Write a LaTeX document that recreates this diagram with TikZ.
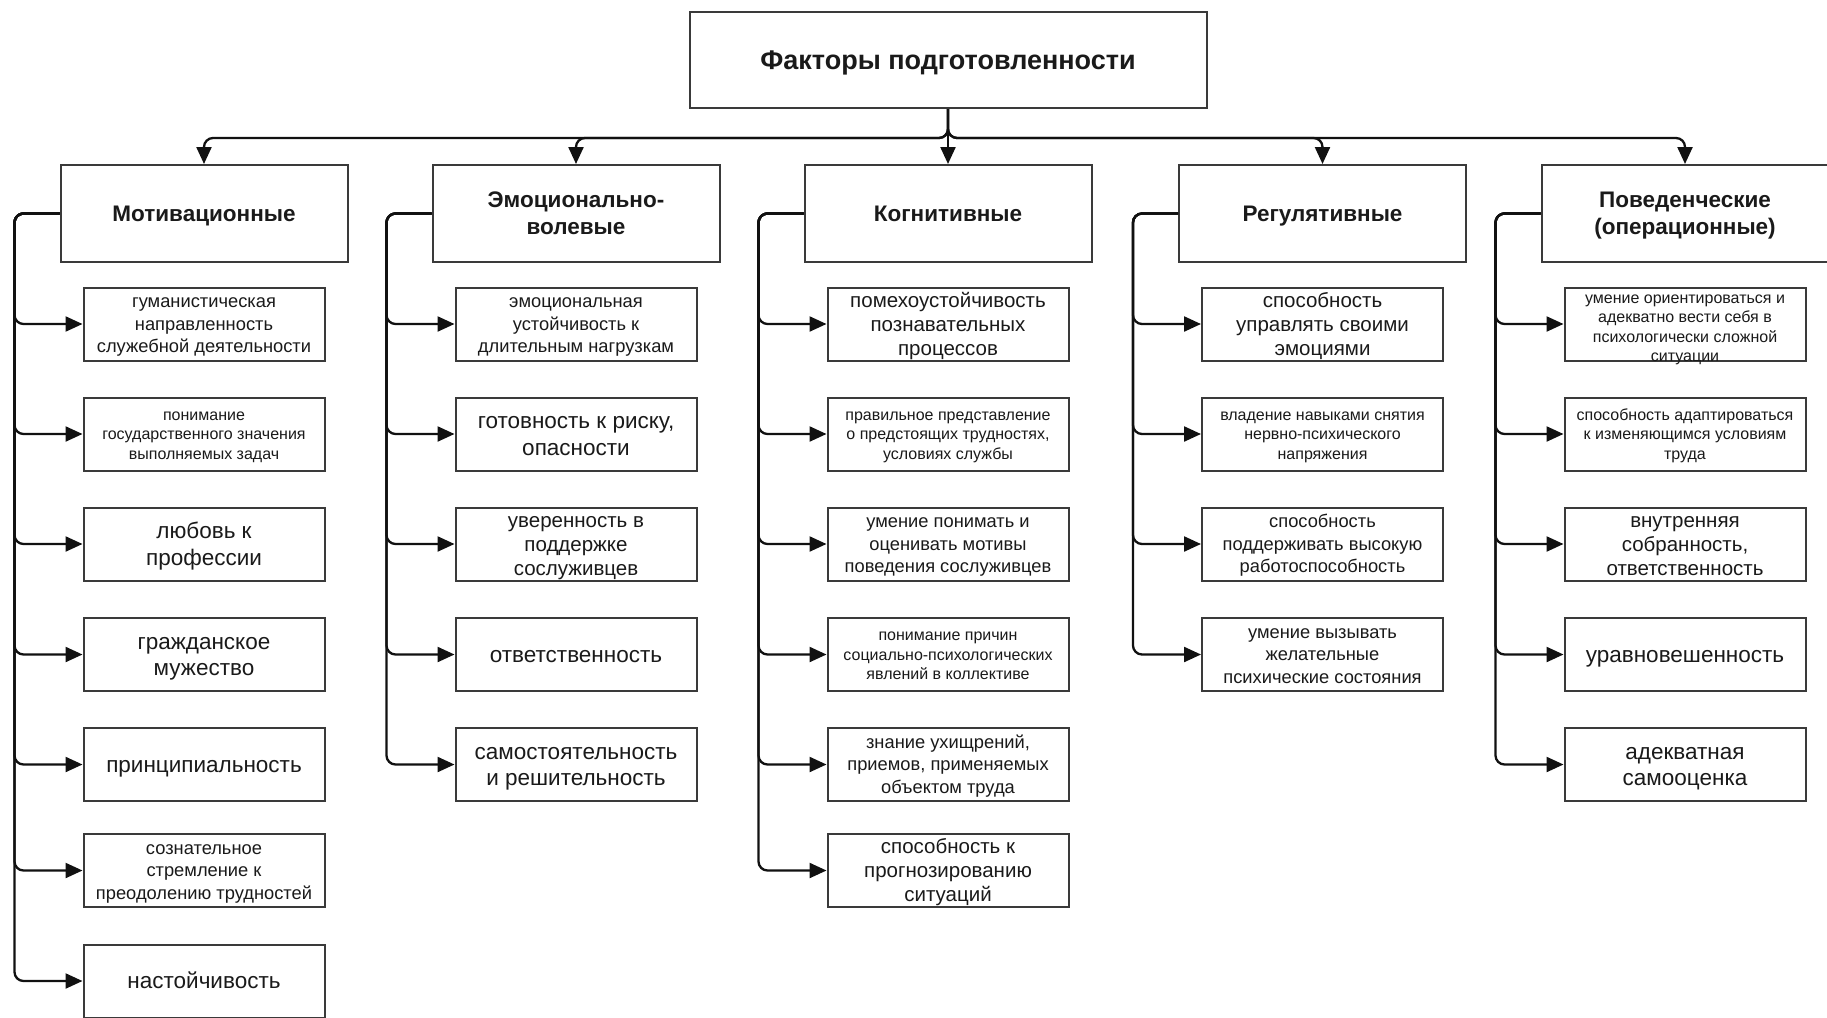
\documentclass[tikz,border=0pt]{standalone}
\usepackage{fontspec}
\setmainfont{Liberation Sans}
\usetikzlibrary{arrows.meta}
\definecolor{ink}{HTML}{1A1A1A}
\definecolor{frame}{HTML}{3A3A3A}
\definecolor{wire}{HTML}{111111}
% invisible strut with the full ascent and descent of the font
\newcommand\lstrut{\rule[-0.212em]{0pt}{1.117em}}
\newcommand\nt[1]{\lstrut#1\lstrut}

\begin{document}
\begin{tikzpicture}[x=1pt,y=-1pt,
  rootbox/.style={draw=frame, line width=2pt, fill=white, text=ink, align=center,
    minimum width=517pt, minimum height=96pt, inner sep=2pt,
    font=\fontsize{27}{32}\selectfont\bfseries},
  headbox/.style={draw=frame, line width=2pt, fill=white, text=ink, align=center,
    minimum width=287pt, minimum height=97pt, inner sep=2pt,
    font=\fontsize{22.5}{27}\selectfont\bfseries},
  itembox/.style={draw=frame, line width=2pt, fill=white, text=ink, align=center,
    minimum width=241pt, minimum height=73pt, inner sep=0pt},
  txtL/.style={font=\fontsize{22.5}{26.5}\selectfont},
  txtR/.style={font=\fontsize{20.5}{24}\selectfont},
  txtM/.style={font=\fontsize{18.3}{22.5}\selectfont},
  txtS/.style={font=\fontsize{16}{19.5}\selectfont},
  conn/.style={draw=wire, line width=2.3pt, rounded corners=9pt,
    -{Triangle[length=17pt,width=15pt]}},
]
\useasboundingbox (0,0) rectangle (1827,1017);

% root
\node[rootbox] (top) at (948,60) {\nt{Факторы подготовленности}};

% factor groups
\node[headbox] (h1) at (204,213.5) {\nt{Мотивационные}};
\node[headbox] (h2) at (576,213.5) {\nt{Эмоционально-\\волевые}};
\node[headbox] (h3) at (948,213.5) {\nt{Когнитивные}};
\node[headbox] (h4) at (1322.5,213.5) {\nt{Регулятивные}};
\node[headbox] (h5) at (1685,213.5) {\nt{Поведенческие\\(операционные)}};

% column 1
\node[itembox,txtM] (c11) at (204,324) {\nt{гуманистическая\\направленность\\служебной деятельности}};
\node[itembox,txtS] (c12) at (204,434) {\nt{понимание\\государственного значения\\выполняемых задач}};
\node[itembox,txtL] (c13) at (204,544) {\nt{любовь к\\профессии}};
\node[itembox,txtL] (c14) at (204,654.5) {\nt{гражданское\\мужество}};
\node[itembox,txtL] (c15) at (204,764.5) {\nt{принципиальность}};
\node[itembox,txtM] (c16) at (204,870.5) {\nt{сознательное\\стремление к\\преодолению трудностей}};
\node[itembox,txtL] (c17) at (204,981) {\nt{настойчивость}};

% column 2
\node[itembox,txtM] (c21) at (576,324) {\nt{эмоциональная\\устойчивость к\\длительным нагрузкам}};
\node[itembox,txtL] (c22) at (576,434) {\nt{готовность к риску,\\опасности}};
\node[itembox,txtR] (c23) at (576,544) {\nt{уверенность в\\поддержке\\сослуживцев}};
\node[itembox,txtL] (c24) at (576,654.5) {\nt{ответственность}};
\node[itembox,txtL] (c25) at (576,764.5) {\nt{самостоятельность\\и решительность}};

% column 3
\node[itembox,txtR] (c31) at (948,324) {\nt{помехоустойчивость\\познавательных\\процессов}};
\node[itembox,txtS] (c32) at (948,434) {\nt{правильное представление\\о предстоящих трудностях,\\условиях службы}};
\node[itembox,txtM] (c33) at (948,544) {\nt{умение понимать и\\оценивать мотивы\\поведения сослуживцев}};
\node[itembox,txtS] (c34) at (948,654.5) {\nt{понимание причин\\социально-психологических\\явлений в коллективе}};
\node[itembox,txtM] (c35) at (948,764.5) {\nt{знание ухищрений,\\приемов, применяемых\\объектом труда}};
\node[itembox,txtR] (c36) at (948,870.5) {\nt{способность к\\прогнозированию\\ситуаций}};

% column 4
\node[itembox,txtR] (c41) at (1322.5,324) {\nt{способность\\управлять своими\\эмоциями}};
\node[itembox,txtS] (c42) at (1322.5,434) {\nt{владение навыками снятия\\нервно-психического\\напряжения}};
\node[itembox,txtM] (c43) at (1322.5,544) {\nt{способность\\поддерживать высокую\\работоспособность}};
\node[itembox,txtM] (c44) at (1322.5,654.5) {\nt{умение вызывать\\желательные\\психические состояния}};

% column 5 (the first box is drawn at its fixed size, its text runs over the frame)
\node[itembox,font=\fontsize{16}{19.2}\selectfont] (c51) at (1685,324) {};
\node[text=ink,align=center,inner sep=0pt,font=\fontsize{16}{19.2}\selectfont,yshift=-3pt] (c51t) at (c51.center) {\nt{умение ориентироваться и\\адекватно вести себя в\\психологически сложной\\ситуации}};
\node[itembox,txtS] (c52) at (1685,434) {\nt{способность адаптироваться\\к изменяющимся условиям\\труда}};
\node[itembox,txtR] (c53) at (1685,544) {\nt{внутренняя\\собранность,\\ответственность}};
\node[itembox,txtL] (c54) at (1685,654.5) {\nt{уравновешенность}};
\node[itembox,txtL] (c55) at (1685,764.5) {\nt{адекватная\\самооценка}};

% root to groups
\draw[conn] (top.south) -- ++(0,29) -| (h1.north);
\draw[conn] (top.south) -- ++(0,29) -| (h2.north);
\draw[conn] (top.south) -- (h3.north);
\draw[conn] (top.south) -- ++(0,29) -| (h4.north);
\draw[conn] (top.south) -- ++(0,29) -| (h5.north);

% groups to items
\foreach \col/\n in {1/7,2/5,3/6,4/4,5/5}{
  \foreach \row in {1,...,\n}{
    \draw[conn] (h\col.west) -- ++(-45,0) |- (c\col\row.west);
  }
}
\end{tikzpicture}
\end{document}
